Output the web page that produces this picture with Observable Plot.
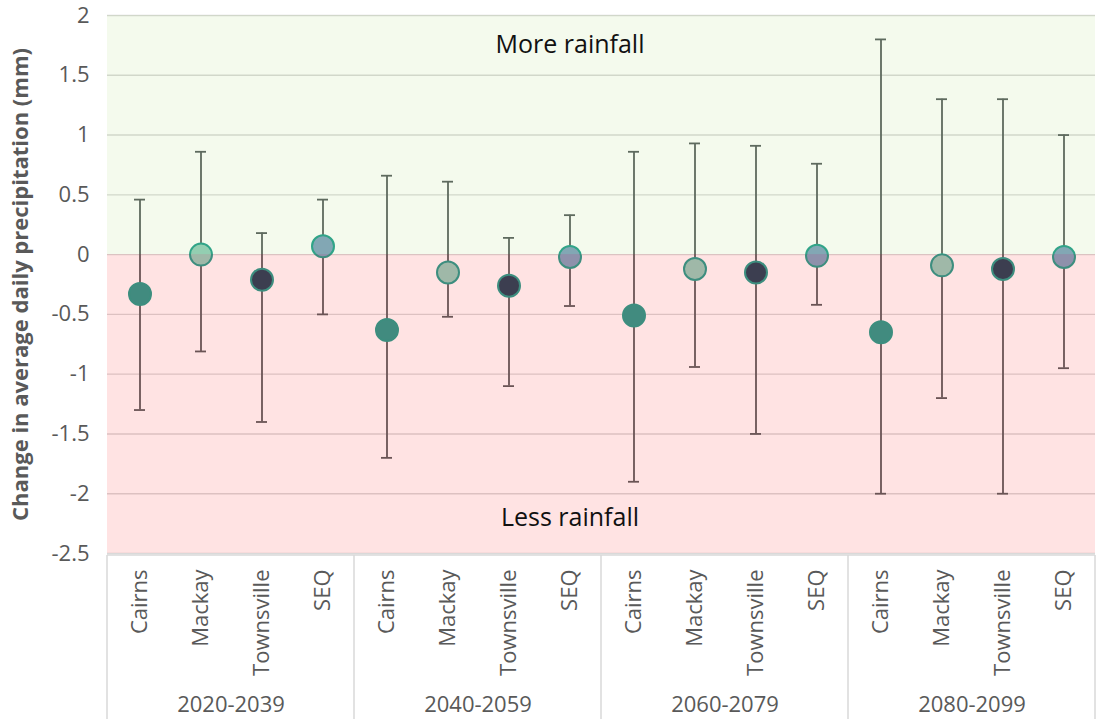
<!DOCTYPE html>
<html>
<head>
<meta charset="utf-8">
<script src="https://cdn.jsdelivr.net/npm/d3@7"></script>
<script src="https://cdn.jsdelivr.net/npm/@observablehq/plot@0.6"></script>
<style>
  html, body { margin: 0; padding: 0; background: #fff; }
  #chart { width: 1096px; height: 719px; }
</style>
</head>
<body>
<div id="chart"></div>
<script>
// ---- data ----
const periods = ["2020-2039", "2040-2059", "2060-2079", "2080-2099"];
const cities = ["Cairns", "Mackay", "Townsville", "SEQ"];

const cairnsMean = [-0.33, -0.63, -0.51, -0.65];
const cairnsHigh = [0.46, 0.66, 0.86, 1.8];
const cairnsLow  = [-1.3, -1.7, -1.9, -2.0];

const mackayMean = [0.0, -0.15, -0.12, -0.09];
const mackayHigh = [0.86, 0.61, 0.93, 1.3];
const mackayLow  = [-0.81, -0.52, -0.94, -1.2];

const townsvilleMean = [-0.21, -0.26, -0.15, -0.12];
const townsvilleHigh = [0.18, 0.14, 0.91, 1.3];
const townsvilleLow  = [-1.4, -1.1, -1.5, -2.0];

const seqMean = [0.07, -0.02, -0.01, -0.02];
const seqHigh = [0.46, 0.33, 0.76, 1.0];
const seqLow  = [-0.5, -0.43, -0.42, -0.95];

const yTicks = [-2.5, -2, -1.5, -1, -0.5, 0, 0.5, 1, 1.5, 2];
const yLabel = "Change in average daily precipitation (mm)";

const zoneText = ["More rainfall", "Less rainfall"];
const zoneFrom = [0, -2.5];
const zoneTo = [2, 0];
const zoneTextAt = [1.75, -2.2];

// ---- table built from arrays ----
const series = {
  Cairns: [cairnsMean, cairnsHigh, cairnsLow],
  Mackay: [mackayMean, mackayHigh, mackayLow],
  Townsville: [townsvilleMean, townsvilleHigh, townsvilleLow],
  SEQ: [seqMean, seqHigh, seqLow]
};
const rows = [];
periods.forEach((p, i) => {
  cities.forEach(c => {
    const [m, h, l] = series[c];
    rows.push({period: p, city: c, mean: m[i], high: h[i], low: l[i]});
  });
});
const zones = zoneText.map((t, i) => ({text: t, from: zoneFrom[i], to: zoneTo[i], at: zoneTextAt[i]}));

const fillColors = ["#2a9d8f", "#94cfbd", "#25465a", "#80a3c0"];
const zoneColors = ["#92D050", "#FF0000"];
const zoneOpac = [0.1, 0.11];

const plot = Plot.plot({
  width: 1096,
  height: 719,
  marginTop: 15,
  marginBottom: 166,
  marginLeft: 105,
  marginRight: 0,
  style: {fontFamily: "'Open Sans', sans-serif", fontSize: "22px", color: "#595959", background: "#fff", overflow: "visible"},
  fx: {domain: periods, padding: 0},
  x: {type: "band", domain: cities, padding: 0},
  y: {domain: [-2.5, 2]},
  color: {domain: cities, range: fillColors},
  marks: [
    Plot.gridY(yTicks, {stroke: "#d9d9d9", strokeOpacity: 1, strokeWidth: 1.4}),
    Plot.ruleX(rows, {fx: "period", x: "city", y1: "low", y2: "high", stroke: "#585f60", strokeWidth: 1.8}),
    Plot.tickY(rows, {fx: "period", x: "city", y: "high", stroke: "#585f60", strokeWidth: 1.8, insetLeft: 25, insetRight: 25}),
    Plot.tickY(rows, {fx: "period", x: "city", y: "low", stroke: "#585f60", strokeWidth: 1.8, insetLeft: 25, insetRight: 25}),
    Plot.dot(rows, {fx: "period", x: "city", y: "mean", r: 11, fill: "city", stroke: "#26a08f", strokeWidth: 2}),
    Plot.rect(zones, {y1: "from", y2: "to", fill: (d, i) => zoneColors[i], fillOpacity: (d, i) => zoneOpac[i]}),
    Plot.text(zones, {fx: () => periods[1], x: () => cities[3], y: "at", text: "text", fill: "#111", fontSize: 25}),
    Plot.axisY(yTicks, {tickSize: 0, tickPadding: 18, tickFormat: d => String(d), label: yLabel, labelAnchor: "center", labelOffset: 95, labelArrow: "none"}),
    Plot.axisX({tickSize: 0, tickPadding: 16, tickRotate: -90, label: null}),
    Plot.axisFx({anchor: "bottom", tickSize: 0, tickPadding: 143, label: null})
  ]
});

document.getElementById("chart").appendChild(plot);

// bold y title
const svg = d3.select(plot);
svg.selectAll('g[aria-label="y-axis label"] text').attr("font-weight", "bold");

// category axis box (Excel-style)
const fxs = plot.scale("fx");
const edges = periods.map(p => fxs.apply(p));
edges.push(edges[edges.length - 1] + fxs.bandwidth);
const boxTop = 719 - 166 + 2;
const g = svg.append("g").attr("stroke", "#d9d9d9").attr("stroke-width", 1.5);
g.append("line").attr("x1", edges[0]).attr("x2", edges[edges.length - 1]).attr("y1", boxTop).attr("y2", boxTop);
edges.forEach(x => g.append("line").attr("x1", x).attr("x2", x).attr("y1", boxTop).attr("y2", 719));
</script>
</body>
</html>
